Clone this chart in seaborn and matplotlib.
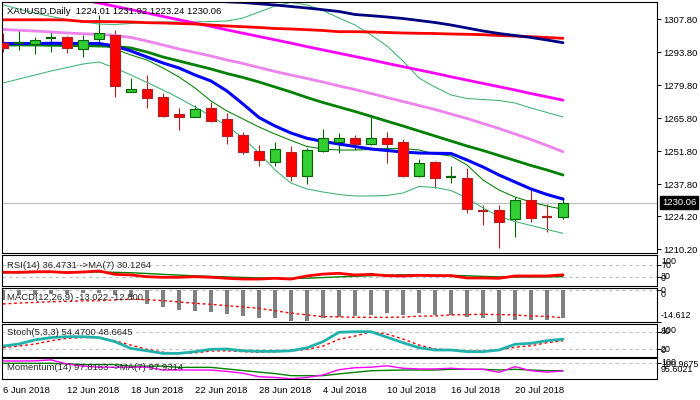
import matplotlib
matplotlib.use("Agg")
import matplotlib.pyplot as plt
import matplotlib.transforms as mtransforms
import seaborn as sns
import numpy as np

# ---- bars (daily, 6 Jun .. 25 Jul 2018) ----
tick_bars = [0, 4, 8, 12, 16, 20, 24, 28, 32]
tick_dates = ["6 Jun 2018", "12 Jun 2018", "18 Jun 2018", "22 Jun 2018", "28 Jun 2018",
              "4 Jul 2018", "10 Jul 2018", "16 Jul 2018", "20 Jul 2018"]

opens = [1297.62, 1297.5, 1297.19, 1299.57, 1300.29, 1295.07, 1299.31, 1301.14, 1277.08, 1278.23,
         1274.7, 1267.62, 1266.47, 1270.04, 1265.37, 1258.71, 1251.92, 1247.38, 1251.37, 1241.44,
         1251.92, 1255.61, 1257.31, 1254.89, 1257.31, 1255.61, 1241.44, 1247.12, 1240.34, 1240.34,
         1227.18, 1226.89, 1222.94, 1231.0, 1224.5, 1224.01]
highs = [1301.99, 1303.26, 1300.42, 1302.28, 1300.71, 1301.14, 1309.62, 1303.26, 1282.77, 1284.17,
         1276.4, 1270.04, 1271.44, 1272.58, 1267.92, 1260.11, 1254.47, 1255.61, 1254.04, 1253.07,
         1261.13, 1259.43, 1258.71, 1266.47, 1260.11, 1256.88, 1248.4, 1247.8, 1245.56, 1244.83,
         1229.0, 1229.0, 1232.27, 1235.37, 1229.43, 1231.92]
lows = [1293.93, 1294.77, 1292.95, 1294.05, 1293.37, 1291.68, 1298.3, 1274.96, 1276.83, 1270.29,
        1266.5, 1260.83, 1266.2, 1264.35, 1254.76, 1250.52, 1245.56, 1245.68, 1239.32, 1237.79,
        1251.62, 1251.2, 1252.34, 1254.47, 1246.96, 1241.01, 1241.0, 1236.1, 1238.22, 1225.74,
        1220.52, 1210.89, 1215.3, 1221.92, 1217.68, 1223.24]
closes = [1295.75, 1297.7, 1299.02, 1299.99, 1295.5, 1299.02, 1301.86, 1279.5, 1278.1, 1274.28,
          1266.9, 1266.47, 1269.61, 1264.65, 1258.41, 1251.62, 1248.1, 1252.64, 1241.44, 1252.34,
          1257.31, 1257.31, 1254.76, 1257.31, 1254.76, 1241.31, 1246.7, 1240.59, 1240.76, 1227.18,
          1226.59, 1221.92, 1231.0, 1223.62, 1224.0, 1230.06]

# ---- moving averages / bands on the price chart ----
ma_navy = [1320.66, 1320.23, 1319.81, 1319.38, 1318.96, 1318.53, 1318.11, 1317.69, 1317.26, 1316.92,
           1316.58, 1316.24, 1315.90, 1315.56, 1315.22, 1314.93, 1314.38, 1313.87, 1313.23, 1312.59,
           1311.87, 1311.11, 1309.84, 1309.33, 1308.78, 1308.14, 1307.29, 1306.44, 1305.38, 1304.11,
           1302.84, 1301.77, 1300.93, 1300.08, 1299.02, 1297.87]
ma_red = [1307.59, 1307.59, 1307.59, 1307.59, 1307.50, 1306.87, 1306.87, 1306.78, 1306.66, 1306.36,
          1306.23, 1306.02, 1305.81, 1305.38, 1304.96, 1304.66, 1304.32, 1303.90, 1303.69, 1303.39,
          1303.05, 1302.54, 1302.54, 1302.41, 1302.20, 1301.99, 1301.86, 1301.77, 1301.56, 1301.44,
          1301.27, 1300.93, 1300.71, 1300.42, 1300.08, 1299.74]
ma_magenta = [1323.2, 1321.8, 1320.4, 1318.9, 1317.5, 1316.1, 1314.7, 1313.3, 1311.9, 1310.5,
              1309.0, 1307.6, 1306.2, 1304.8, 1303.3, 1301.9, 1300.5, 1299.1, 1297.7, 1296.2,
              1294.8, 1293.4, 1292.0, 1290.6, 1289.1, 1287.7, 1286.3, 1284.9, 1283.4, 1282.0,
              1280.6, 1279.2, 1277.8, 1276.3, 1274.9, 1273.5]
ma_violet = [1303.47, 1303.13, 1302.83, 1302.41, 1301.99, 1301.65, 1301.44, 1300.93, 1300.08, 1298.59,
             1296.90, 1295.20, 1293.71, 1292.23, 1290.53, 1289.05, 1287.35, 1285.65, 1284.17, 1282.68,
             1281.20, 1279.50, 1278.01, 1276.32, 1274.62, 1272.92, 1271.23, 1269.53, 1267.62, 1265.71,
             1263.59, 1261.47, 1259.13, 1256.80, 1254.25, 1251.62]
bb_mid = [1296.90, 1296.90, 1296.90, 1296.77, 1296.68, 1296.60, 1296.47, 1296.26, 1295.62, 1293.93,
          1291.80, 1290.11, 1288.41, 1286.71, 1284.80, 1283.11, 1281.20, 1279.07, 1276.95, 1274.62,
          1272.50, 1270.59, 1268.68, 1266.64, 1264.57, 1262.53, 1260.41, 1258.28, 1256.16, 1254.04,
          1252.13, 1250.01, 1247.89, 1245.77, 1243.86, 1241.74]
bb_upper = [1313.87, 1312.17, 1310.47, 1308.99, 1307.72, 1306.66, 1305.81, 1305.59, 1306.02, 1306.44,
            1306.66, 1306.66, 1306.66, 1306.87, 1307.08, 1308.35, 1310.90, 1313.44, 1314.93, 1313.87,
            1311.53, 1308.35, 1305.38, 1301.14, 1296.47, 1290.11, 1282.89, 1279.07, 1275.68, 1274.20,
            1273.77, 1273.35, 1272.29, 1270.17, 1268.26, 1266.35]
bb_lower = [1280.77, 1282.47, 1284.17, 1285.86, 1287.35, 1288.83, 1289.68, 1287.14, 1284.17, 1280.99,
            1277.80, 1274.41, 1270.59, 1266.77, 1262.53, 1257.44, 1251.07, 1243.86, 1238.34, 1235.80,
            1234.52, 1233.46, 1232.83, 1232.83, 1233.04, 1234.10, 1236.86, 1236.43, 1235.16, 1231.98,
            1227.74, 1224.13, 1222.01, 1220.31, 1218.61, 1217.00]
ma_blue = [1297.53, 1297.53, 1297.53, 1297.62, 1297.62, 1297.53, 1297.53, 1296.47, 1294.35, 1291.80,
           1289.26, 1287.14, 1284.17, 1281.62, 1277.37, 1271.86, 1266.13, 1262.53, 1259.56, 1257.31,
           1255.95, 1254.89, 1253.83, 1252.77, 1252.13, 1251.49, 1251.07, 1250.94, 1250.86, 1248.10,
           1245.13, 1241.74, 1238.77, 1235.80, 1233.46, 1231.55]
ma_thin = [1296.68, 1296.90, 1297.11, 1297.32, 1297.32, 1297.32, 1297.32, 1295.20, 1292.65, 1290.53,
           1287.14, 1283.32, 1278.65, 1273.14, 1268.89, 1265.50, 1262.10, 1259.13, 1256.38, 1253.83,
           1252.77, 1252.34, 1252.34, 1252.56, 1252.98, 1252.98, 1252.34, 1250.65, 1249.80, 1245.98,
           1239.62, 1235.37, 1232.40, 1230.28, 1228.58, 1227.18]
price_ticks = [1307.80, 1293.80, 1279.80, 1265.80, 1251.80, 1237.80, 1224.20, 1210.20]

# ---- indicators ----
rsi = [45, 45, 47, 47, 44, 46, 49.5, 38, 36, 30, 28, 28, 30, 28, 24.5, 22, 22, 24.5, 22, 32.5,
       39, 41.5, 36, 38, 33.5, 32.5, 34.7, 33.5, 33.5, 25.6, 25.6, 24.5, 32.5, 32.5, 32.5, 36.4731]
rsi_ma = [44, 44, 44.5, 45, 45, 45.5, 46, 45, 43.5, 41, 38, 35.5, 33, 31, 29, 27.5, 26, 25, 24, 25,
          27, 29.5, 31.5, 33.5, 35.5, 36.5, 36.5, 35.5, 34.7, 33, 31, 29.5, 29, 29, 29.5, 30.1264]
macd = [-4.8, -2.6, -2.3, -2.0, -1.8, -1.6, -1.4, -2.4, -3.2, -6.5, -7.7, -9.1, -9.6, -10.0, -11.1,
        -11.8, -13.0, -13.0, -14.1, -14.1, -13.0, -12.3, -11.8, -11.4, -10.7, -11.4, -10.7, -11.4,
        -11.4, -12.3, -13.0, -14.612, -13.7, -13.7, -13.7, -13.022]
macd_signal = [-6.5, -6.1, -5.8, -5.5, -5.3, -5.1, -5.0, -4.7, -4.3, -4.6, -5.0, -5.6, -6.2, -6.7,
               -7.3, -7.9, -8.5, -9.6, -10.7, -11.5, -12.3, -12.4, -12.6, -12.6, -12.6, -12.5, -12.1,
               -12.0, -11.5, -11.4, -11.2, -11.4, -11.5, -12.0, -12.2, -12.8]
stoch_k = [31, 38, 52, 60, 63, 63, 60, 46, 23, 15, 6, 6, 12, 20, 21, 15, 13, 13, 15, 25, 46, 78,
           80, 80, 61, 42.5, 25.5, 17.6, 17.6, 12, 12, 17.6, 37, 40.5, 49.3, 54.47]
stoch_d = [25.5, 31, 38, 49, 57.5, 60, 60, 49, 34.5, 20, 10, 6.5, 8, 14, 15, 12, 10, 12, 14, 20,
           31, 54, 65, 80, 72, 55, 34.5, 21, 17.6, 14, 14, 17.6, 27, 32, 42.5, 48.6645]
momentum = [100.65, 100.65, 100.7, 100.9675, 99.8, 99.2, 98.9, 98.9, 98.9, 98.9, 98.1, 98.1, 98.1,
            98.1, 97.7, 97.2, 96.2, 96.0, 95.6021, 96.0, 96.7, 98.2, 98.75, 98.9, 99.3, 98.6, 98.4,
            98.4, 98.6, 98.3, 98.3, 97.45, 99.05, 97.9, 97.5, 97.8163]
momentum_ma = [100.0, 100.0, 100.0, 100.0, 99.85, 99.65, 99.65, 99.65, 99.2, 99.2, 99.2, 98.85, 98.85,
               98.85, 98.4, 97.95, 97.5, 97.1, 96.5, 96.5, 96.5, 97.0, 97.45, 97.9, 98.0, 98.1, 98.1,
               98.1, 98.3, 98.3, 98.3, 98.1, 98.3, 98.1, 97.9, 97.9314]

sns.set_style("white")
plt.rcParams['font.family'] = ['Liberation Sans', 'DejaVu Sans']
FS = 6.8
plt.rcParams['font.size'] = FS

bars = np.arange(len(closes))
fig = plt.figure(figsize=(7, 4), dpi=100)
fig.patch.set_facecolor("white")


def panel(top, bottom):
    a = fig.add_axes([2 / 700, 1 - bottom / 400, 655 / 700, (bottom - top) / 400])
    a.set_facecolor("white")
    for s in a.spines.values():
        s.set_color("black")
        s.set_linewidth(0.8)
    a.set_xlim(-0.0625, 40.875)
    a.set_xticks([])
    a.yaxis.tick_right()
    a.tick_params(axis="y", direction="out", length=3, width=0.7, colors="black",
                  labelsize=FS, pad=1.5)
    return a


def line(a, y, color, lw, ls="-"):
    sns.lineplot(x=bars, y=y, ax=a, color=color, linewidth=lw, linestyle=ls)
    a.set_xlabel("")
    a.set_ylabel("")


def level(a, v):
    a.axhline(v, color="#C0C0C0", lw=0.8, ls=(0, (3, 3)), zorder=0)


# ---- main price chart ----
ax = panel(2, 253)
ax.set_ylim(1208.64, 1315.14)
ax.axhline(closes[-1], color="#C0C0C0", lw=0.9, zorder=0)

o = np.array(opens)
c = np.array(closes)
up = c >= o
lo = np.minimum(o, c)
hgt = np.abs(c - o)
wick = np.where(up, "#006400", "#B22222")
ax.vlines(bars, lows, highs, colors=wick, lw=0.8, zorder=2)
body = hgt >= 0.9
g = body & up
r = body & ~up
ax.bar(bars[g], hgt[g], bottom=lo[g], width=0.68, color="#32CD32", edgecolor="#006400",
       linewidth=0.8, zorder=3)
ax.bar(bars[r], hgt[r], bottom=lo[r], width=0.68, color="#FF0000", edgecolor="#B22222",
       linewidth=0.8, zorder=3)
ax.hlines(c[~body], bars[~body] - 0.34, bars[~body] + 0.34, colors=wick[~body], lw=1.6, zorder=3)

line(ax, bb_upper, "#3CB371", 0.75)
line(ax, bb_lower, "#3CB371", 0.75)
line(ax, ma_thin, "#008000", 0.75)
line(ax, bb_mid, "#008000", 2.0)
line(ax, ma_violet, "#EE82EE", 2.0)
line(ax, ma_magenta, "#FF00FF", 2.0)
line(ax, ma_red, "#FF0000", 2.0)
line(ax, ma_navy, "#000080", 2.0)
line(ax, ma_blue, "#0000FF", 2.2)
ax.set_xlim(-0.0625, 40.875)
ax.set_ylim(1208.64, 1315.14)
ax.set_yticks(price_ticks)
ax.set_yticklabels([f"{v:.2f}" for v in price_ticks])
trans = mtransforms.blended_transform_factory(ax.transAxes, ax.transData)
ax.text(1 + 5 / 655, closes[-1], f"{closes[-1]:.2f}", transform=trans, ha="left", va="center",
        color="white", fontsize=FS,
        bbox=dict(facecolor="black", edgecolor="black", boxstyle="square,pad=0.2"))
fig.text(7 / 700, 1 - 11 / 400,
         "XAUUSD,Daily  %.2f %.2f %.2f %.2f" % (opens[-1], highs[-1], lows[-1], closes[-1]),
         ha="left", va="center", fontsize=FS, color="black")

# ---- RSI ----
ax_rsi = panel(255, 286)
for v in (70, 30):
    level(ax_rsi, v)
line(ax_rsi, rsi_ma, "#008000", 1.0)
line(ax_rsi, rsi, "#FF0000", 2.0)
ax_rsi.set_ylim(-1.79, 104.19)
ax_rsi.set_xlim(-0.0625, 40.875)
ax_rsi.set_yticks([70, 30])
ax_rsi.set_yticklabels([])
fig.text(7 / 700, 1 - 265 / 400, "RSI(14) %.4f ->MA(7) %.4f" % (rsi[-1], rsi_ma[-1]),
         ha="left", va="center", fontsize=FS)

# ---- MACD ----
ax_macd = panel(288.3, 321.7)
level(ax_macd, 0)
ax_macd.bar(bars, macd, width=0.19, color="#808080", linewidth=0, zorder=2)
line(ax_macd, macd_signal, "#FF0000", 1.0, (0, (2, 2)))
ax_macd.set_ylim(-14.57, 0.64)
ax_macd.set_xlim(-0.0625, 40.875)
ax_macd.set_yticks([0, -14.612])
ax_macd.set_yticklabels([])
fig.text(7 / 700, 1 - 297 / 400, "MACD(12,26,9) %.3f %.3f" % (macd[-1], macd_signal[-1]),
         ha="left", va="center", fontsize=FS)

# ---- Stochastic ----
ax_st = panel(324, 356.7)
for v in (80, 20):
    level(ax_st, v)
line(ax_st, stoch_d, "#FF0000", 1.0, (0, (2, 2)))
line(ax_st, stoch_k, "#20B2AA", 2.0)
ax_st.set_ylim(-5.24, 106.25)
ax_st.set_xlim(-0.0625, 40.875)
ax_st.set_yticks([80, 20])
ax_st.set_yticklabels([])
fig.text(7 / 700, 1 - 332.7 / 400, "Stoch(5,3,3) %.4f %.4f" % (stoch_k[-1], stoch_d[-1]),
         ha="left", va="center", fontsize=FS)

# ---- Momentum ----
ax_mo = panel(358.3, 379.3)
level(ax_mo, 100)
line(ax_mo, momentum_ma, "#008000", 1.0)
line(ax_mo, momentum, "#FF00FF", 1.0)
ax_mo.set_ylim(95.47, 101.42)
ax_mo.set_xlim(-0.0625, 40.875)
ax_mo.set_yticks([100])
ax_mo.set_yticklabels([])
ax_mo.set_xticks(tick_bars)
ax_mo.set_xticklabels(tick_dates)
ax_mo.tick_params(axis="x", direction="out", length=3, width=0.7, colors="black",
                  labelsize=FS, pad=2)
for t in ax_mo.get_xticklabels():
    t.set_ha("left")
fig.text(7 / 700, 1 - 367.7 / 400, "Momentum(14) %.4f ->MA(7) %.4f" % (momentum[-1], momentum_ma[-1]),
         ha="left", va="center", fontsize=FS)

# ---- right-hand scale texts of the sub windows (they overlap, as in MT4) ----
side = [("100", 261.5), ("70", 265.5), ("30", 276.5), ("0", 278.3),
        ("0", 290.7), ("0", 294.3), ("-14.612", 315.3),
        ("100", 330.8), ("80", 331.8), ("20", 349.3), ("0", 350.3),
        ("100", 362.6), ("100.9675", 364.2), ("95.6021", 369.5)]
for s, yp in side:
    fig.text(661 / 700, 1 - yp / 400, s, ha="left", va="center", fontsize=6.4, color="black")

fig.savefig("out.png", dpi=100, facecolor="white")
